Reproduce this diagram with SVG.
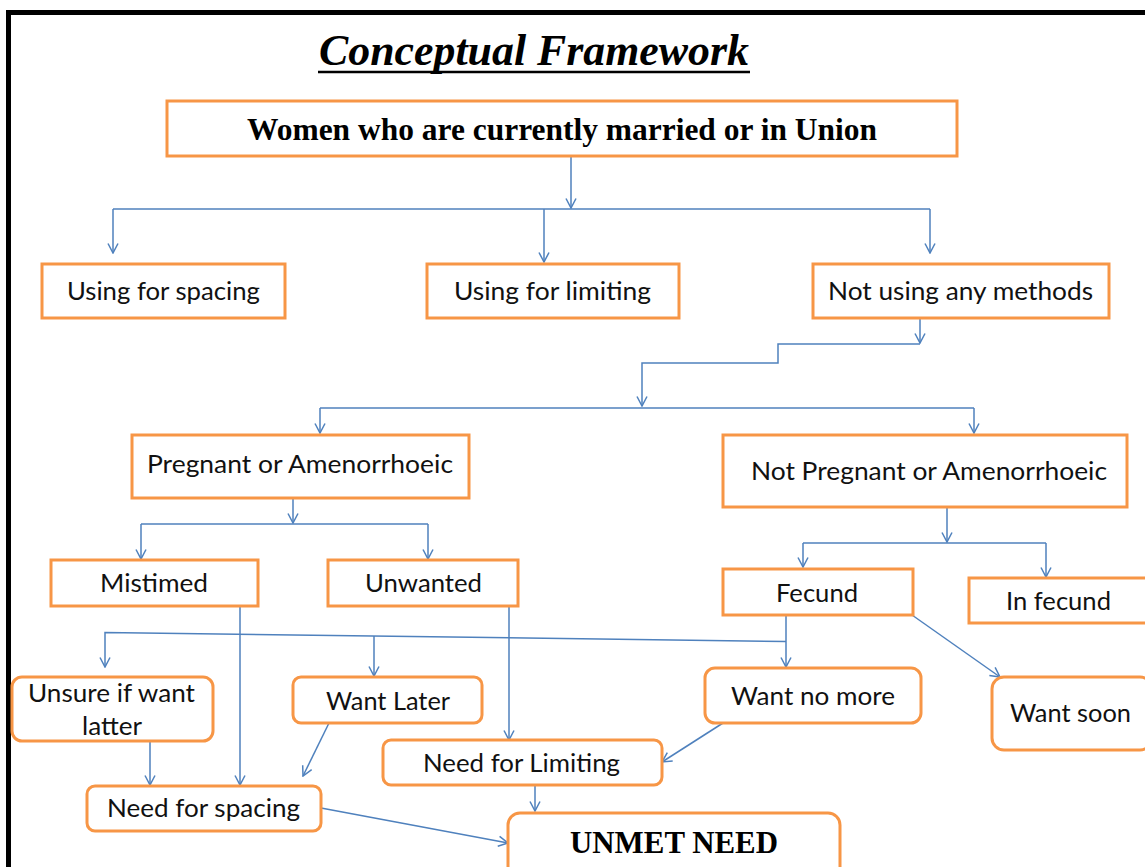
<svg xmlns="http://www.w3.org/2000/svg" width="1145" height="867" viewBox="0 0 1145 867">
<defs>
<style>
.box{fill:#fff;stroke:#F79646;stroke-width:3}
.c{fill:none;stroke:#4F81BD;stroke-width:1.5}
.t{font-family:Lato,"Noto Sans","Liberation Sans",sans-serif;font-size:25px;fill:#111;text-anchor:middle}
.s{font-family:"Liberation Serif","Times New Roman",serif;font-weight:bold;fill:#000;text-anchor:middle}
</style>
<marker id="ah" markerUnits="userSpaceOnUse" markerWidth="12" markerHeight="12" viewBox="0 0 12 12" refX="11" refY="6" orient="auto">
<path d="M1.5,1 L11,6 L1.5,11" fill="none" stroke="#4F81BD" stroke-width="1.5"/>
</marker>
</defs>
<rect width="1145" height="867" fill="#fff"/>
<path d="M8.5,867 V12.5 H1145" fill="none" stroke="#000" stroke-width="5"/>
<g id="title">
<text x="534" y="65" class="s" font-style="italic" font-size="44" textLength="430" lengthAdjust="spacingAndGlyphs">Conceptual Framework</text>
<line x1="318" y1="72" x2="750" y2="72" stroke="#000" stroke-width="2.5"/>
</g>
<g id="connectors" class="c">
<path d="M571,156 V208" marker-end="url(#ah)"/>
<path d="M113,209 H930"/>
<path d="M113,209 V253" marker-end="url(#ah)"/>
<path d="M544,209 V262" marker-end="url(#ah)"/>
<path d="M930,209 V253" marker-end="url(#ah)"/>
<path d="M920,318 V343" marker-end="url(#ah)"/>
<path d="M920,344 H778 V363 H642 V406" marker-end="url(#ah)"/>
<path d="M320,408 H974"/>
<path d="M320,408 V433" marker-end="url(#ah)"/>
<path d="M974,408 V433" marker-end="url(#ah)"/>
<path d="M293,498 V523" marker-end="url(#ah)"/>
<path d="M141,524 H428"/>
<path d="M141,524 V559" marker-end="url(#ah)"/>
<path d="M428,524 V559" marker-end="url(#ah)"/>
<path d="M947,507 V542" marker-end="url(#ah)"/>
<path d="M803,543 H1046"/>
<path d="M803,543 V567" marker-end="url(#ah)"/>
<path d="M1046,543 V577" marker-end="url(#ah)"/>
<path d="M786,615 V667" marker-end="url(#ah)"/>
<path d="M786,641.5 L105,632.5 V667" marker-end="url(#ah)"/>
<path d="M374,636 V676" marker-end="url(#ah)"/>
<path d="M240,606 V785" marker-end="url(#ah)"/>
<path d="M509,606 V740" marker-end="url(#ah)"/>
<path d="M150,741 V785" marker-end="url(#ah)"/>
<path d="M329,723 L303,776" marker-end="url(#ah)"/>
<path d="M321,808 L508,843" marker-end="url(#ah)"/>
<path d="M535,785 V811" marker-end="url(#ah)"/>
<path d="M723,723 L662,762" marker-end="url(#ah)"/>
<path d="M912,615 L1000,677" marker-end="url(#ah)"/>
</g>
<g id="n-women"><rect class="box" x="167" y="101" width="790" height="55"/><text class="s" x="562" y="140" font-size="31" textLength="630" lengthAdjust="spacingAndGlyphs">Women who are currently married or in Union</text></g>
<g id="n-spacing"><rect class="box" x="42" y="264" width="243" height="54"/><text class="t" x="163.5" y="300" textLength="193" lengthAdjust="spacingAndGlyphs">Using for spacing</text></g>
<g id="n-limiting"><rect class="box" x="427" y="264" width="252" height="54"/><text class="t" x="552.5" y="300" textLength="197" lengthAdjust="spacingAndGlyphs">Using for limiting</text></g>
<g id="n-notusing"><rect class="box" x="813" y="264" width="296" height="54"/><text class="t" x="960.5" y="300" textLength="265" lengthAdjust="spacingAndGlyphs">Not using any methods</text></g>
<g id="n-pregnant"><rect class="box" x="132" y="435" width="337" height="63"/><text class="t" x="300" y="473" textLength="306" lengthAdjust="spacingAndGlyphs">Pregnant or Amenorrhoeic</text></g>
<g id="n-notpregnant"><rect class="box" x="723" y="435" width="404" height="72"/><text class="t" x="929" y="480" textLength="356" lengthAdjust="spacingAndGlyphs">Not Pregnant or Amenorrhoeic</text></g>
<g id="n-mistimed"><rect class="box" x="51" y="560" width="207" height="46"/><text class="t" x="154" y="592" textLength="108" lengthAdjust="spacingAndGlyphs">Mistimed</text></g>
<g id="n-unwanted"><rect class="box" x="328" y="560" width="190" height="46"/><text class="t" x="423.5" y="592" textLength="117" lengthAdjust="spacingAndGlyphs">Unwanted</text></g>
<g id="n-fecund"><rect class="box" x="723" y="569" width="190" height="46"/><text class="t" x="817" y="602" textLength="82" lengthAdjust="spacingAndGlyphs">Fecund</text></g>
<g id="n-infecund"><rect class="box" x="969" y="578" width="180" height="45"/><text class="t" x="1058.5" y="610" textLength="105" lengthAdjust="spacingAndGlyphs">In fecund</text></g>
<g id="n-unsure"><rect class="box" x="12" y="677" width="201" height="64" rx="10"/><text class="t" x="111.5" y="702" textLength="167" lengthAdjust="spacingAndGlyphs">Unsure if want</text><text class="t" x="112" y="735" textLength="60" lengthAdjust="spacingAndGlyphs">latter</text></g>
<g id="n-wantlater"><rect class="box" x="293" y="677" width="189" height="46" rx="8"/><text class="t" x="388" y="710" textLength="124" lengthAdjust="spacingAndGlyphs">Want Later</text></g>
<g id="n-wantnomore"><rect class="box" x="705" y="668" width="216" height="55" rx="10"/><text class="t" x="813" y="705" textLength="164" lengthAdjust="spacingAndGlyphs">Want no more</text></g>
<g id="n-wantsoon"><rect class="box" x="992" y="677" width="160" height="73" rx="12"/><text class="t" x="1070.5" y="722" textLength="121" lengthAdjust="spacingAndGlyphs">Want soon</text></g>
<g id="n-needspacing"><rect class="box" x="87" y="786" width="234" height="45" rx="8"/><text class="t" x="203.5" y="817" textLength="193" lengthAdjust="spacingAndGlyphs">Need for spacing</text></g>
<g id="n-needlimiting"><rect class="box" x="383" y="740" width="279" height="45" rx="8"/><text class="t" x="521.5" y="772" textLength="197" lengthAdjust="spacingAndGlyphs">Need for Limiting</text></g>
<g id="n-unmet"><rect class="box" x="508" y="813" width="332" height="70" rx="12"/><text class="s" x="674" y="853" font-size="31" textLength="208" lengthAdjust="spacingAndGlyphs">UNMET NEED</text></g>
</svg>
